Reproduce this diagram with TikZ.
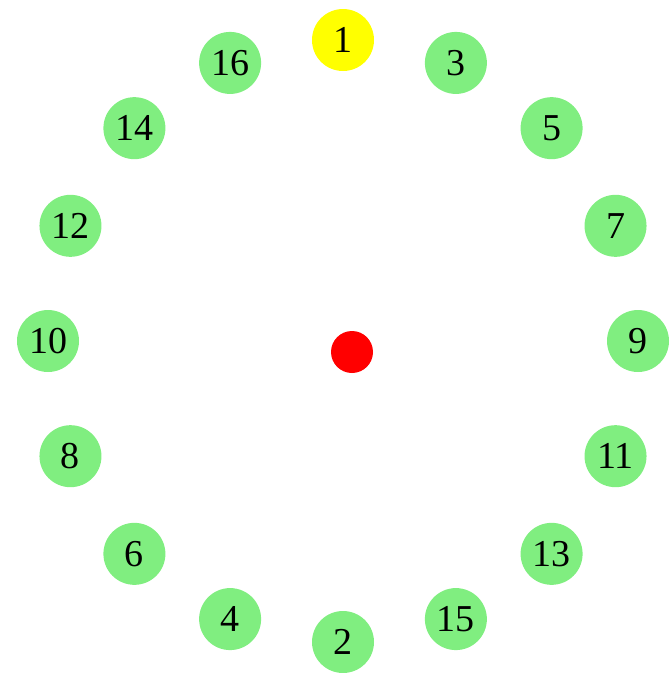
\documentclass[tikz,border=0pt]{standalone}
\usepackage{fontspec}
\setmainfont{Liberation Serif}
\definecolor{nodegreen}{RGB}{128,238,128}
\definecolor{nodeyellow}{RGB}{255,255,0}
\definecolor{dotred}{RGB}{255,0,0}
\begin{document}
\begin{tikzpicture}[x=1pt,y=-1pt,
  vert/.style={circle, fill=nodegreen, minimum size=62pt, inner sep=0pt,
    font=\fontsize{38}{38}\selectfont},
  start/.style={vert, fill=nodeyellow},
  centre/.style={circle, fill=dotred, minimum size=42pt, inner sep=0pt}]
\useasboundingbox (0,0) rectangle (670,673);
\foreach \lab [count=\i from 0] in {1,3,5,7,9,11,13,15,2,4,6,8,10,12,14,16} {
  \ifnum\i=0
    \node[start] (n\lab) at ({343+295*sin(22.5*\i)},{341-301*cos(22.5*\i)}) {\lab};
  \else
    \node[vert] (n\lab) at ({343+295*sin(22.5*\i)},{341-301*cos(22.5*\i)}) {\lab};
  \fi
}
\node[centre] (c) at (352,352) {};
\end{tikzpicture}
\end{document}
